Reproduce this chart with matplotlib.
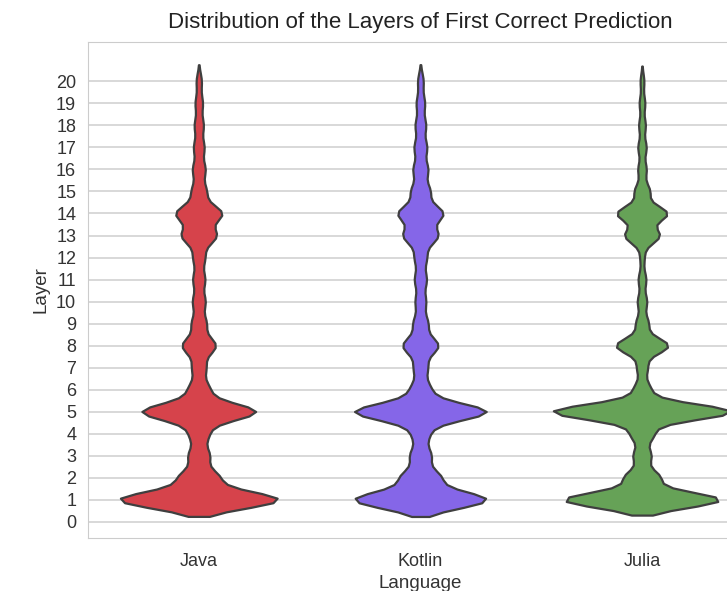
import numpy as np
import pandas as pd
import matplotlib
matplotlib.use("Agg")
import matplotlib.pyplot as plt
import seaborn as sns

# layer counts (layers 1..20)
layers = list(range(1, 21))
java_counts = [770, 190, 100, 90, 550, 100, 65, 160, 70, 60,
               57, 55, 165, 220, 70, 60, 50, 43, 35, 25]
kotlin_counts = [640, 190, 100, 80, 640, 95, 65, 170, 70, 50,
                 57, 57, 165, 215, 90, 70, 60, 50, 40, 27]
julia_counts = [750, 170, 85, 110, 860, 80, 50, 250, 60, 45,
                37, 20, 165, 240, 73, 40, 40, 32, 27, 18]
languages = ["Java", "Kotlin", "Julia"]
colors = ["#d6434b", "#8566e8", "#66a257"]

frames = []
for lang, counts in zip(languages, [java_counts, kotlin_counts, julia_counts]):
    frames.append(pd.DataFrame({"Language": lang,
                                "Layer": np.repeat(layers, counts)}))
df = pd.concat(frames, ignore_index=True)

sns.set_style("whitegrid")
plt.rcParams["font.family"] = ["Liberation Sans", "DejaVu Sans"]

fig = plt.figure(figsize=(7.27, 5.91), dpi=100)
ax = fig.add_axes([0.121, 0.0892, 0.9145, 0.8402])

sns.violinplot(data=df, x="Language", y="Layer", hue="Language",
               palette=colors, saturation=1, inner=None, cut=2,
               bw_method=0.07, density_norm="area", common_norm=True,
               linewidth=1.6, linecolor="#3f3f3f", legend=False, ax=ax)

ax.set_yticks(range(0, 21))
ax.set_ylim(-0.75, 21.8)
ax.set_xlim(-0.5, 2.5)
ax.tick_params(labelsize=13, colors="#333333")
ax.tick_params(axis="x", pad=7)
ax.tick_params(axis="y", pad=5)
ax.set_xlabel("Language", fontsize=13.5, color="#333333")
ax.set_ylabel("Layer", fontsize=13.5, color="#333333", labelpad=5)
ax.set_title("Distribution of the Layers of First Correct Prediction",
             fontsize=16, color="#222222", pad=10)
ax.xaxis.grid(False)
ax.yaxis.grid(True, color="#d5d5d5", linewidth=1.3)

fig.savefig("out.png", dpi=100)
